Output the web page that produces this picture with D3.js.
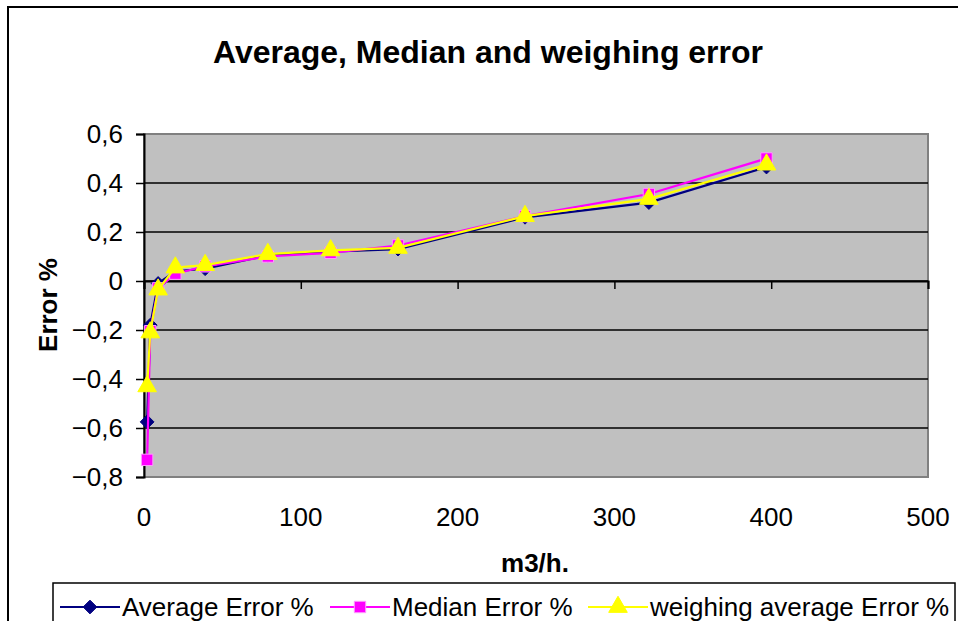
<!DOCTYPE html>
<html>
<head>
<meta charset="utf-8">
<script src="https://cdn.jsdelivr.net/npm/d3@7"></script>
<style>
  html, body { margin: 0; padding: 0; background: #fff; }
  svg { display: block; font-family: Arial, "Liberation Sans", sans-serif; }
</style>
</head>
<body>
<div id="root"></div>
<script>
"use strict";

const flow = [2, 4, 9, 20, 39, 79, 119, 162, 243, 322, 397];
const averageError = [-0.575, -0.18, -0.01, 0.04, 0.05, 0.105, 0.12, 0.13, 0.26, 0.32, 0.465];
const medianError = [-0.73, -0.205, -0.03, 0.03, 0.06, 0.1, 0.115, 0.145, 0.265, 0.355, 0.5];
const weighedError = [-0.43, -0.21, -0.035, 0.055, 0.065, 0.11, 0.125, 0.135, 0.265, 0.335, 0.475];
const seriesNames = ["Average Error %", "Median Error %", "weighing average Error %"];
const xTicks = [0, 100, 200, 300, 400, 500];
const yTicks = [0.6, 0.4, 0.2, 0, -0.2, -0.4, -0.6, -0.8];

const width = 958;
const height = 621;
const plot = { left: 144, right: 928, top: 134, bottom: 477 };
const font = "Arial, 'Liberation Sans', sans-serif";

const colors = {
  average: "#000080",
  median: "#ff00ff",
  weighed: "#ffff00",
};

const series = [
  { name: seriesNames[0], values: averageError, color: colors.average, stroke: colors.average, symbol: d3.symbolDiamond2, size: 120 },
  { name: seriesNames[1], values: medianError, color: colors.median, stroke: "#ff99ff", symbol: d3.symbolSquare, size: 130 },
  { name: seriesNames[2], values: weighedError, color: colors.weighed, stroke: colors.weighed, symbol: d3.symbolTriangle, size: 150 },
];

const locale = d3.formatLocale({ decimal: ",", thousands: ".", grouping: [3], currency: ["", ""] });
const fmtY = (d) => (d === 0 ? "0" : locale.format(".1f")(d));

const ScaleX = d3.scaleLinear().domain([0, 500]).range([plot.left, plot.right]);
const ScaleY = d3.scaleLinear().domain([-0.8, 0.6]).range([plot.bottom, plot.top]);

const svg = d3.select("#root")
  .append("svg")
  .attr("width", width)
  .attr("height", height);

// outer chart frame
svg.append("rect")
  .attr("x", 8).attr("y", 7)
  .attr("width", 960).attr("height", 640)
  .attr("fill", "#fff")
  .attr("stroke", "#000")
  .attr("stroke-width", 2);

svg.append("text")
  .attr("x", 488).attr("y", 63)
  .attr("text-anchor", "middle")
  .style("font-size", "32px")
  .style("font-weight", "bold")
  .text("Average, Median and weighing error");

// plot area
svg.append("rect")
  .attr("x", plot.left).attr("y", plot.top)
  .attr("width", plot.right - plot.left)
  .attr("height", plot.bottom - plot.top)
  .attr("fill", "#c0c0c0")
  .attr("stroke", "#808080")
  .attr("stroke-width", 2);

// horizontal grid
svg.append("g")
  .selectAll("line")
  .data(yTicks.filter((d) => d !== 0.6 && d !== -0.8))
  .enter()
  .append("line")
  .attr("x1", plot.left).attr("x2", plot.right)
  .attr("y1", (d) => ScaleY(d)).attr("y2", (d) => ScaleY(d))
  .attr("stroke", "#000")
  .attr("stroke-width", 1.5);

// y axis
const yAxis = d3.axisLeft(ScaleY).tickValues(yTicks).tickFormat(fmtY).tickSize(8).tickPadding(13);
const gy = svg.append("g")
  .attr("transform", `translate(${plot.left},0)`)
  .call(yAxis);
gy.select(".domain").attr("stroke", "#000").attr("stroke-width", 2);
gy.selectAll(".tick line").attr("stroke", "#000").attr("stroke-width", 1.5);
gy.selectAll(".tick text").style("font-size", "26px").style("font-family", font).attr("fill", "#000");

// x axis along zero line
const xAxis = d3.axisBottom(ScaleX).tickValues(xTicks).tickSize(8).tickFormat("");
const gx = svg.append("g")
  .attr("transform", `translate(0,${ScaleY(0)})`)
  .call(xAxis);
gx.select(".domain").attr("stroke", "#000").attr("stroke-width", 2);
gx.selectAll(".tick line").attr("stroke", "#000").attr("stroke-width", 1.5);

// x tick labels below the plot
svg.append("g")
  .selectAll("text")
  .data(xTicks)
  .enter()
  .append("text")
  .attr("x", (d) => ScaleX(d))
  .attr("y", 526)
  .attr("text-anchor", "middle")
  .style("font-size", "26px")
  .text((d) => d);

svg.append("text")
  .attr("x", 535).attr("y", 572)
  .attr("text-anchor", "middle")
  .style("font-size", "26px")
  .style("font-weight", "bold")
  .text("m3/h.");

svg.append("text")
  .attr("transform", "translate(57,305) rotate(-90)")
  .attr("text-anchor", "middle")
  .style("font-size", "26px")
  .style("font-weight", "bold")
  .text("Error %");

// series
const line = d3.line()
  .x((d) => ScaleX(d[0]))
  .y((d) => ScaleY(d[1]));

series.forEach((s) => {
  const pts = flow.map((x, i) => [x, s.values[i]]);
  svg.append("path")
    .datum(pts)
    .attr("d", line)
    .attr("fill", "none")
    .attr("stroke", s.color)
    .attr("stroke-width", 2.2);
  svg.append("g")
    .selectAll("path")
    .data(pts)
    .enter()
    .append("path")
    .attr("d", d3.symbol().type(s.symbol).size(s.size))
    .attr("transform", (d) => `translate(${ScaleX(d[0])},${ScaleY(d[1])})`)
    .attr("fill", s.color)
    .attr("stroke", s.stroke)
    .attr("stroke-width", 1);
});

// legend
const legend = svg.append("g");
legend.append("rect")
  .attr("x", 53).attr("y", 583)
  .attr("width", 902).attr("height", 60)
  .attr("fill", "#fff")
  .attr("stroke", "#000")
  .attr("stroke-width", 1.5);

const legendX = [60, 330, 588];
series.forEach((s, i) => {
  const x0 = legendX[i];
  const y0 = 607;
  legend.append("line")
    .attr("x1", x0).attr("x2", x0 + 60)
    .attr("y1", y0).attr("y2", y0)
    .attr("stroke", s.color)
    .attr("stroke-width", 2);
  legend.append("path")
    .attr("d", d3.symbol().type(s.symbol).size(s.size))
    .attr("transform", `translate(${x0 + 30},${y0})`)
    .attr("fill", s.color)
    .attr("stroke", s.stroke);
  legend.append("text")
    .attr("x", x0 + 62).attr("y", y0 + 9)
    .style("font-size", "26px")
    .text(s.name);
});
</script>
</body>
</html>
